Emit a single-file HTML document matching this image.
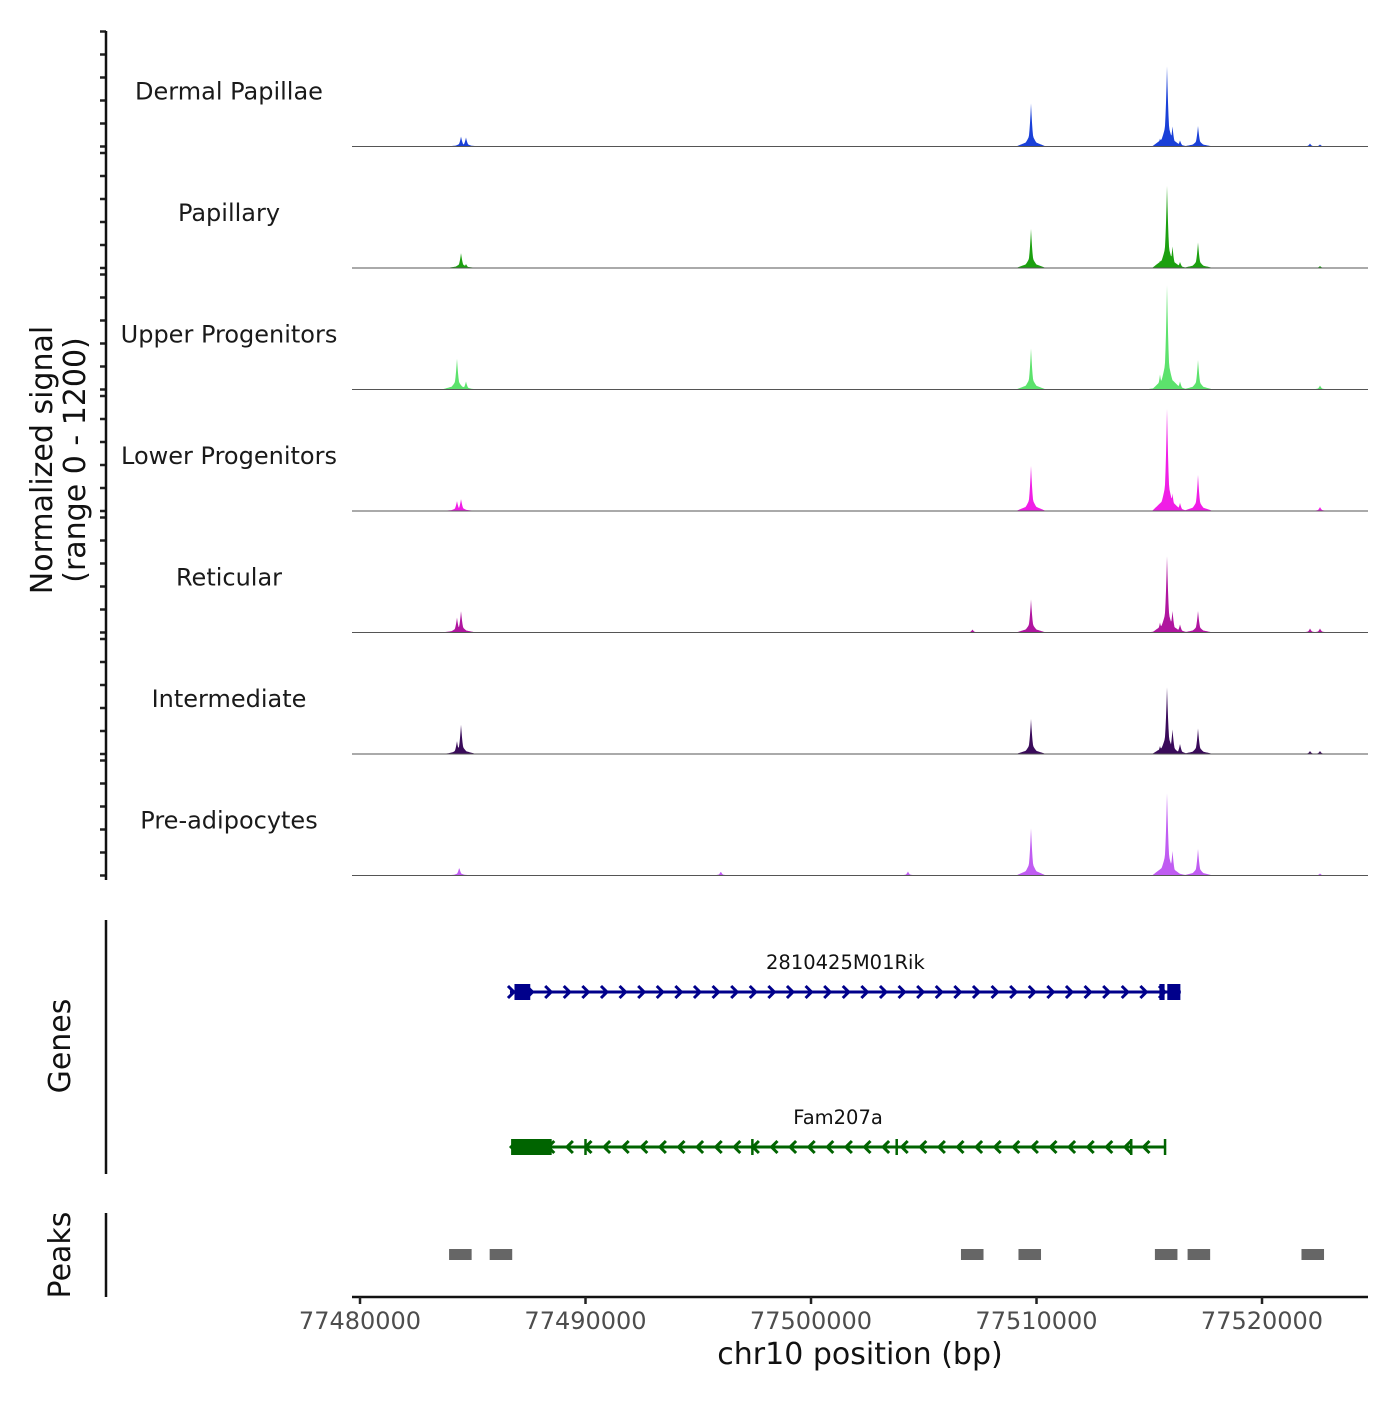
<!DOCTYPE html>
<html><head><meta charset="utf-8"><style>
body{margin:0;background:#fff;}
svg text{font-family:"DejaVu Sans","Liberation Sans",sans-serif;}
</style></head><body>
<svg id="chart" width="1400" height="1400" viewBox="0 0 1400 1400" xmlns="http://www.w3.org/2000/svg"></svg>
<script>
// ---- data ----
const trackNames = ["Dermal Papillae","Papillary","Upper Progenitors","Lower Progenitors","Reticular","Intermediate","Pre-adipocytes"];
const trackColors = ["#1a40d8","#1ca010","#5ce26c","#f01ee6","#b0159f","#3a0b5a","#c05cf2"];
const peakPos = {
 "Dermal Papillae":[77484480,77484700,77509756,77515477,77515787,77516030,77516364,77517162,77522129,77522572],
 "Papillary":[77484480,77484700,77509756,77515477,77515787,77516030,77516364,77517162,77522572],
 "Upper Progenitors":[77484300,77484700,77509756,77515477,77515787,77516364,77517162,77522572],
 "Lower Progenitors":[77484300,77484480,77509756,77515787,77516030,77516364,77517162,77522572],
 "Reticular":[77484300,77484480,77507160,77509756,77515477,77515787,77516030,77516364,77517162,77522129,77522572],
 "Intermediate":[77484300,77484480,77509756,77515477,77515787,77516030,77516364,77517162,77522129,77522572],
 "Pre-adipocytes":[77484400,77496000,77504300,77509756,77515787,77516030,77517162,77522572]
};
const peakVal = {
 "Dermal Papillae":[100,90,430,80,800,200,60,205,30,20],
 "Papillary":[150,40,390,70,820,215,60,255,20],
 "Upper Progenitors":[310,80,410,150,1040,80,295,40],
 "Lower Progenitors":[100,120,450,1020,175,80,360,40],
 "Reticular":[150,215,30,330,100,760,215,80,215,40,40],
 "Intermediate":[130,295,350,80,665,245,100,255,30,30],
 "Pre-adipocytes":[80,40,40,470,820,245,265,20]
};
const geneNames = ["2810425M01Rik","Fam207a"];
const geneStart = [77486650,77486700];
const geneEnd = [77516400,77515700];
const geneStrand = [1,-1];
const geneExons = [[[77486850,77487550],[77515450,77515680],[77515800,77516380]],[[77486700,77488500]]];
const geneMarks = [[],[77490000,77497400,77503800,77514200,77515700]];
const peakRegionStart = [77483950,77485750,77506650,77509200,77515250,77516700,77521750];
const peakRegionEnd = [77484950,77486750,77507650,77510200,77516250,77517700,77522750];
const xTicks = [77480000,77490000,77500000,77510000,77520000];

// ---- scales ----
const X0=352,X1=1368,D0=77479645,D1=77524700;
const xs=v=>X0+(v-D0)/(D1-D0)*(X1-X0);
const TRK_H=121.5, BASE0=146.5, YMAX=1200, YPX=121;
const ys=(v,b)=>b-v/YMAX*YPX;
const svg=document.getElementById('chart');
const NS="http://www.w3.org/2000/svg";
function mk(tag,attrs,parent){const e=document.createElementNS(NS,tag);for(const k in attrs)e.setAttribute(k,attrs[k]);(parent||svg).appendChild(e);return e;}
function txt(s,attrs,parent){const e=mk('text',attrs,parent);e.textContent=s;return e;}

// ---- tracks ----
trackNames.forEach((name,ti)=>{
  const b=BASE0+ti*TRK_H;
  const g=mk('g',{});
  
  
  const pos=peakPos[name],val=peakVal[name];
  let d=`M${X0},${b}`;
  for(let px=X0;px<=X1;px+=0.5){
    let h=0;
    pos.forEach((p,i)=>{
      const dx=Math.abs(px-xs(p));
      const f=Math.max(0,1-dx/5.5);
      const f2=Math.max(0,1-dx/11)*0.35;
      const f3=Math.max(0,1-dx/15)*0.14;
      h=Math.max(h,val[i]*Math.max(f*f*f,f2*f2/0.35,f3));
    });
    d+=`L${px},${ys(h,b).toFixed(2)}`;
  }
  d+=`L${X1},${b}Z`;
  const a=mk('path',{d:d,fill:trackColors[ti]},g);
  
  
  const bl=mk('line',{x1:X0,x2:X1,y1:b,y2:b,stroke:'#555','stroke-width':1},g);
  
  
  const t=txt(name,{x:229,y:b-47,'text-anchor':'middle','font-size':24,fill:'#1a1a1a'},g);
  
  
  for(let i=0;i<=5;i++){
    const ty=b-i*23;
    const tk=mk('line',{x1:100,x2:106,y1:ty,y2:ty,stroke:'#222','stroke-width':2.5});
    
    
  }
});
const ya=mk('line',{x1:106,x2:106,y1:31,y2:880,stroke:'#111','stroke-width':2.5});


const yt=mk('text',{transform:'translate(52,460) rotate(-90)','text-anchor':'middle','font-size':30,fill:'#111'});


yt.innerHTML='<tspan x="0" dy="0">Normalized signal</tspan><tspan x="0" dy="33">(range 0 - 1200)</tspan>';

// ---- genes ----
const geneY=[992,1147],geneCol=['#00008b','#006400'];
geneNames.forEach((gn,gi)=>{
  const y=geneY[gi],c=geneCol[gi];
  const g=mk('g',{});
  
  
  const l=mk('line',{x1:xs(geneStart[gi]),x2:xs(geneEnd[gi]),y1:y,y2:y,stroke:c,'stroke-width':3},g);
  
  
  const s=xs(geneStart[gi]),e=xs(geneEnd[gi]);
  for(let ax=s+2;ax<e-10;ax+=18.6){
    const dir=geneStrand[gi];
    const ar=mk('polyline',{points:`${ax-4*dir},${y-6} ${ax+2*dir},${y} ${ax-4*dir},${y+6}`,fill:'none',stroke:c,'stroke-width':3},g);
    
    
  }
  geneExons[gi].forEach(ex=>{
    const r=mk('rect',{x:xs(ex[0]),y:y-8,width:xs(ex[1])-xs(ex[0]),height:16,fill:c},g);
    
    
  });
  geneMarks[gi].forEach(m=>{
    const r=mk('line',{x1:xs(m),x2:xs(m),y1:y-8,y2:y+8,stroke:c,'stroke-width':2.5},g);
    
    
  });
  const t=txt(gn,{x:(s+e)/2,y:y-23,'text-anchor':'middle','font-size':19.5,fill:'#111'},g);
  
  
});
const ga=mk('line',{x1:106,x2:106,y1:920,y2:1174,stroke:'#111','stroke-width':2.5});


const gt=txt('Genes',{transform:'translate(70,1046) rotate(-90)','text-anchor':'middle','font-size':30,fill:'#111'});



// ---- peaks ----
peakRegionStart.forEach((p,i)=>{
  const r=mk('rect',{x:xs(p),y:1249,width:xs(peakRegionEnd[i])-xs(p),height:11,fill:'#666'});
  
  
});
const pa=mk('line',{x1:106,x2:106,y1:1213,y2:1297,stroke:'#111','stroke-width':2.5});


const pt=txt('Peaks',{transform:'translate(70,1255) rotate(-90)','text-anchor':'middle','font-size':30,fill:'#111'});



// ---- x axis ----
const xa=mk('line',{x1:X0,x2:X1,y1:1297,y2:1297,stroke:'#111','stroke-width':2.5});


xTicks.forEach(v=>{
  const tk=mk('line',{x1:xs(v),x2:xs(v),y1:1297,y2:1304,stroke:'#222','stroke-width':2.5});
  
  
  const tl=txt(String(v),{x:xs(v),y:1329,'text-anchor':'middle','font-size':24,fill:'#4d4d4d'});
  
  
});
const xt=txt('chr10 position (bp)',{x:860,y:1364,'text-anchor':'middle','font-size':30,fill:'#111'});


</script>
</body></html>
